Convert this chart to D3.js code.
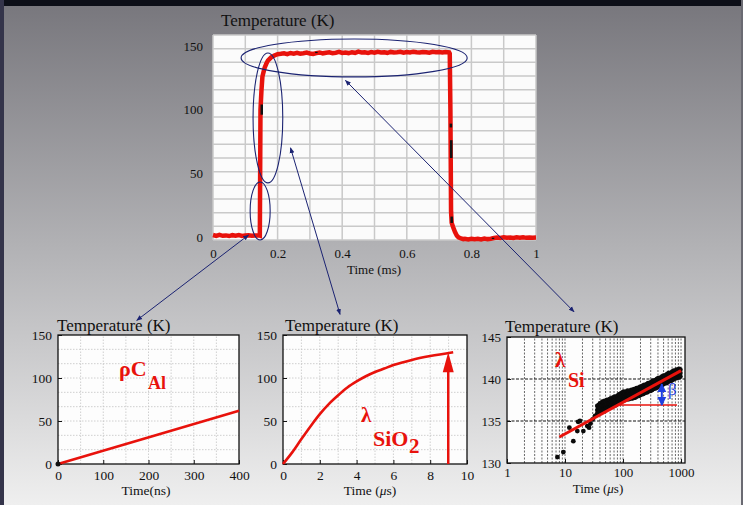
<!DOCTYPE html>
<html><head><meta charset="utf-8">
<script src="https://cdn.jsdelivr.net/npm/d3@7"></script>
<style>html,body{margin:0;padding:0;overflow:hidden;background:#888}svg{display:block}</style>
</head><body><svg id="c" width="743" height="505"></svg>
<script>
// ---------------- DATA ----------------
// Main chart: time (ms), temperature (K)
const mainSeries = [
 [0,1.5],[0.01,0.8],[0.02,1.6],[0.03,0.9],[0.04,1.2],[0.05,0.7],[0.06,1.4],[0.07,1.0],[0.08,1.5],[0.09,0.8],
 [0.10,1.1],[0.11,1.3],[0.12,0.9],[0.13,1.2],[0.14,1.4],[0.145,1.0],[0.146,50],[0.147,100],[0.15,115],
 [0.153,126],[0.157,130],[0.16,133],[0.165,136],[0.17,138.5],[0.18,141],[0.19,142.5],[0.20,143.5],
 [0.21,143.8],[0.22,144.2],[0.23,143.6],[0.24,144.5],[0.25,144.0],[0.26,144.6],[0.27,143.9],[0.28,144.3],
 [0.29,144.8],[0.30,144.1],[0.31,143.7],[0.32,144.4],[0.33,144.9],[0.34,144.2],[0.35,144.6],[0.36,145.0],
 [0.37,144.3],[0.38,144.7],[0.39,145.3],[0.40,144.5],[0.41,144.9],[0.42,144.4],[0.43,145.1],[0.44,144.6],
 [0.45,145.5],[0.46,144.8],[0.47,145.0],[0.48,144.5],[0.49,145.2],[0.50,144.7],[0.51,145.4],[0.52,144.9],
 [0.53,145.1],[0.54,144.6],[0.55,145.3],[0.56,144.8],[0.57,145.0],[0.58,145.4],[0.59,144.7],[0.60,145.2],
 [0.61,144.9],[0.62,145.5],[0.63,145.0],[0.64,144.8],[0.65,145.3],[0.66,145.1],[0.67,144.7],[0.68,145.4],
 [0.69,145.0],[0.70,145.2],[0.71,144.9],[0.72,145.3],[0.731,145.0],[0.733,144],[0.735,100],[0.736,60],
 [0.737,20],[0.739,11],[0.743,8],[0.749,4],[0.755,1],[0.76,-0.3],[0.768,-1.2],[0.775,-1.8],
 [0.78,-1.5],[0.79,-1.9],[0.80,-1.4],[0.81,-1.8],[0.82,-1.5],[0.83,-1.9],[0.84,-1.3],[0.85,-1.7],
 [0.86,-1.4],[0.87,-0.9],[0.88,-0.5],[0.89,-0.8],[0.90,-0.3],[0.91,-0.7],[0.92,-0.4],[0.93,-0.8],
 [0.94,-0.3],[0.95,-0.6],[0.96,-0.2],[0.97,-0.7],[0.98,-0.4],[0.99,-0.6],[1.0,-0.5]
];
// black raw-data segments on the main curve: [time, T from, T to]
const mainBlackMarks = [[0.151,96,104],[0.7375,62,76],[0.7365,86,89],[0.739,11,16],[0.32,144.4,145.4],[0.867,-1.6,-0.6]];
const mainXTicks = [0,0.2,0.4,0.6,0.8,1];
const mainYTicks = [0,50,100,150];

// Left inset: Al (ns)
const alTime = [0,400];
const alTemp = [0,62];
const alXTicks = [0,100,200,300,400];
const subYTicks = [0,50,100,150];

// Middle inset: SiO2 (µs)
const sioTime = [0,0.5,1.0,1.5,2.0,2.5,3.0,3.5,4.0,4.5,5.0,5.5,6.0,7.0,8.0,9.25];
const sioTemp = [0,13.5,29,44,58,70,80,89,96,102,107,111,115,121,125.5,130];
const sioXTicks = [0,2,4,6,8,10];
const sioArrow = {t:8.98, from:0, to:130};

// Right inset: Si (µs, log)
const siSparse = [[7.4,130.7],[9.35,131.3],[11.9,134.2],[13.9,132.6],[16.3,133.8],[16.8,134.9],[18.1,135.0],
 [20.7,133.8],[24.2,134.4],[26,134.2],[27.5,134.7],[30,135.2],[33,135.6],[39,136.9]];
const siBand = [
[36,136.8,136.3,135.9],[38,136.9,136.5,136.0],[40,137.1,136.6,136.2],[42,136.9,136.5,136.1],[44,137.3,136.8,136.3],
[46,137.2,136.7,136.3],[48,137.4,136.9,136.4],[50,137.2,136.8,136.4],[53,137.5,137.0,136.5],[56,137.4,137.0,136.6],
[59,137.6,137.1,136.6],[62,137.7,137.2,136.8],[65,137.5,137.1,136.7],[68,137.8,137.3,136.8],[72,137.9,137.4,136.9],
[76,137.8,137.3,136.9],[80,138.0,137.5,137.1],[84,138.1,137.6,137.2],[88,138.2,137.7,137.2],[93,138.3,137.8,137.3],
[98,138.4,137.9,137.4],[103,138.5,138.0,137.5],[108,138.3,137.9,137.5],[114,138.5,138.0,137.6],[120,138.6,138.1,137.6],
[126,138.4,138.0,137.6],[133,138.6,138.1,137.7],[140,138.7,138.2,137.7],[147,138.5,138.1,137.7],[155,138.8,138.3,137.8],
[163,138.6,138.2,137.8],[171,138.9,138.4,137.9],[180,138.8,138.4,138.0],[190,139.0,138.5,138.0],[200,139.1,138.6,138.1],
[210,139.0,138.6,138.2],[221,139.2,138.7,138.2],[233,139.3,138.8,138.3],[245,139.2,138.8,138.4],[258,139.4,138.9,138.4],
[271,139.5,139.0,138.5],[285,139.4,139.0,138.6],[300,139.6,139.1,138.6],[316,139.7,139.2,138.7],[332,139.8,139.3,138.8],
[350,139.7,139.3,138.9],[368,139.9,139.4,138.9],[387,140.0,139.5,139.0],[407,140.1,139.6,139.1],[429,140.0,139.6,139.2],
[451,140.2,139.7,139.2],[475,140.3,139.8,139.3],[500,140.4,139.9,139.4],[526,140.3,139.9,139.5],[554,140.5,140.0,139.5],
[583,140.6,140.1,139.6],[614,140.7,140.2,139.7],[646,140.6,140.2,139.8],[680,140.8,140.3,139.8],[716,140.9,140.4,139.9],
[754,141.0,140.5,140.0],[793,140.9,140.5,140.1],[835,141.1,140.6,140.1],[879,141.0,140.6,140.2],[925,141.2,140.7,140.2],
[974,141.1,140.7,140.3]];
const siFitTime = [8,1000];
const siFitTemp = [133.1,141.0];
const siRefLine = {from:82, to:850, T:136.9};
const siBeta = {t:466, from:136.9, to:139.4};
const siXTicks = [1,10,100,1000];
const siYTicks = [130,135,140,145];

// ---------------- DRAW ----------------
const svg = d3.select('#c');
const defs = svg.append('defs');
const RED = '#e8120c', NAVY = '#1b2372', BLUE = '#1f3fe0';
const SERIF = '"Liberation Serif","Times New Roman",serif';

const bg = defs.append('linearGradient').attr('id','bg').attr('x1',0).attr('y1',0).attr('x2',0).attr('y2',1);
bg.append('stop').attr('offset',0).attr('stop-color','#77767c');
bg.append('stop').attr('offset',0.5).attr('stop-color','#b3b3b6');
bg.append('stop').attr('offset',1).attr('stop-color','#efefef');
svg.append('rect').attr('width',743).attr('height',505).attr('fill','url(#bg)');
svg.append('rect').attr('width',743).attr('height',6).attr('fill','#0d0f18');
svg.append('rect').attr('width',4).attr('height',505).attr('fill','#34344a');
svg.append('rect').attr('x',741).attr('width',2).attr('height',505).attr('fill','#6a6a72');

// arrow markers
const mk = defs.append('marker').attr('id','ah').attr('viewBox','0 0 10 10').attr('refX',9).attr('refY',5)
  .attr('markerWidth',6).attr('markerHeight',6).attr('orient','auto-start-reverse').attr('markerUnits','userSpaceOnUse');
mk.append('path').attr('d','M0,1 L10,5 L0,9 z').attr('fill',NAVY);
const mkb = defs.append('marker').attr('id','bh').attr('viewBox','0 0 10 10').attr('refX',9).attr('refY',5)
  .attr('markerWidth',9).attr('markerHeight',10).attr('orient','auto-start-reverse').attr('markerUnits','userSpaceOnUse');
mkb.append('path').attr('d','M0,0 L10,5 L0,10 z').attr('fill',BLUE);

// ----- main chart
const mx = d3.scaleLinear().domain([0,1]).range([213,536]);
const my = d3.scaleLinear().domain([-2.4,158.6]).range([240,35]);
const gm = svg.append('g');
gm.append('rect').attr('x',mx(0)).attr('y',my(158.6)).attr('width',mx(1)-mx(0)).attr('height',my(-2.4)-my(158.6)).attr('fill','#fbfbfb');
gm.selectAll('.vg').data(d3.range(0,1.0001,0.1)).join('line')
  .attr('x1',d=>mx(d)).attr('x2',d=>mx(d)).attr('y1',my.range()[0]).attr('y2',my.range()[1])
  .attr('stroke','#c9c9c9').attr('stroke-width',1.5);
const yd = my.domain();
gm.selectAll('.hg').data(d3.range(16).map(i=>yd[0]+i*(yd[1]-yd[0])/15)).join('line')
  .attr('x1',mx(0)).attr('x2',mx(1)).attr('y1',d=>my(d)).attr('y2',d=>my(d))
  .attr('stroke','#c9c9c9').attr('stroke-width',1.5);
gm.append('path').datum(mainSeries).attr('fill','none').attr('stroke',RED).attr('stroke-width',4.5)
  .attr('stroke-linejoin','miter').attr('d',d3.line().x(d=>mx(d[0])).y(d=>my(d[1])));
gm.selectAll('.bm').data(mainBlackMarks).join('line')
  .attr('x1',d=>mx(d[0])).attr('x2',d=>mx(d[0])).attr('y1',d=>my(d[1])).attr('y2',d=>my(d[2]))
  .attr('stroke','#111').attr('stroke-width',2.5);
const axm = gm.append('g').attr('transform',`translate(0,${my.range()[0]})`)
  .call(d3.axisBottom(mx).tickValues(mainXTicks).tickSize(0).tickPadding(9).tickFormat(d=>String(d)));
const aym = gm.append('g').attr('transform',`translate(${mx(0)},0)`)
  .call(d3.axisLeft(my).tickValues(mainYTicks).tickSize(0).tickPadding(10).tickFormat(d=>String(d)));
[axm,aym].forEach(a=>{a.select('.domain').remove(); a.selectAll('text').attr('font-family',SERIF).attr('font-size',13).attr('fill','#111');});
gm.append('text').attr('x',221).attr('y',26).attr('font-family',SERIF).attr('font-size',17).attr('fill','#111').text('Temperature (K)');
gm.append('text').attr('x',374).attr('y',274).attr('text-anchor','middle').attr('font-family',SERIF).attr('font-size',13).attr('fill','#111').text('Time (ms)');

// ----- insets
function inset(o){
  const g = svg.append('g');
  const [x0,x1] = o.x.range(), [y0,y1] = o.y.range();
  g.append('rect').attr('x',x0).attr('y',y1).attr('width',x1-x0).attr('height',y0-y1).attr('fill','#fdfdfd');
  g.selectAll('.gv').data(o.gridX).join('line')
    .attr('x1',d=>o.x(d)).attr('x2',d=>o.x(d)).attr('y1',y0).attr('y2',y1)
    .attr('stroke',o.gridColor).attr('stroke-width',o.gridW).attr('stroke-dasharray',o.gridDash);
  g.selectAll('.gh').data(o.gridY).join('line')
    .attr('x1',x0).attr('x2',x1).attr('y1',d=>o.y(d)).attr('y2',d=>o.y(d))
    .attr('stroke',o.gridColorY||o.gridColor).attr('stroke-width',o.gridWY||o.gridW).attr('stroke-dasharray',o.gridDashY||o.gridDash);
  const ax = g.append('g').attr('transform',`translate(0,${y0})`)
    .call(d3.axisBottom(o.x).tickValues(o.xTicks).tickSizeInner(-4).tickSizeOuter(0).tickPadding(o.xPad||6).tickFormat(d=>String(d)));
  const ay = g.append('g').attr('transform',`translate(${x0},0)`)
    .call(d3.axisLeft(o.y).tickValues(o.yTicks).tickSizeInner(-4).tickSizeOuter(0).tickPadding(6).tickFormat(d=>String(d)));
  [ax,ay].forEach(a=>{a.select('.domain').remove(); a.selectAll('line').attr('stroke','#111');
    a.selectAll('text').attr('font-family',SERIF).attr('font-size',o.tickFont||13.5).attr('fill','#111');});
  g.append('rect').attr('x',x0).attr('y',y1).attr('width',x1-x0).attr('height',y0-y1).attr('fill','none').attr('stroke','#111').attr('stroke-width',1.3);
  g.append('text').attr('x',o.titleX).attr('y',o.titleY).attr('font-family',SERIF).attr('font-size',17).attr('fill','#111').text('Temperature (K)');
  const xl = g.append('text').attr('x',o.labelX).attr('y',o.labelY).attr('text-anchor','middle').attr('font-family',SERIF).attr('font-size',o.labelFont||13.5).attr('fill','#111');
  o.label.forEach(p=>xl.append('tspan').attr('font-style',p[1]?'italic':'normal').text(p[0]));
  return g;
}

// left
const ax1 = d3.scaleLinear().domain([0,400]).range([58,239]);
const ay1 = d3.scaleLinear().domain([0,150]).range([464,335]);
const g1 = inset({x:ax1,y:ay1,gridX:d3.range(50,400,50),gridY:d3.range(1,9).map(i=>i*50/3),
  gridColor:'#c4c4c4',gridW:0.8,gridDash:'1.5,1.5',xTicks:alXTicks,yTicks:subYTicks,
  titleX:57,titleY:331,labelX:146,labelY:495,label:[['Time(ns)',false]]});
g1.append('path').datum(alTime.map((t,i)=>[t,alTemp[i]])).attr('fill','none').attr('stroke',RED).attr('stroke-width',2.6)
  .attr('d',d3.line().x(d=>ax1(d[0])).y(d=>ay1(d[1])));
g1.append('circle').attr('cx',ax1(alTime[0])).attr('cy',ay1(alTemp[0])).attr('r',2.5).attr('fill','#111');
g1.append('text').attr('x',119).attr('y',376).attr('font-family',SERIF).attr('font-weight','bold').attr('font-size',22).attr('fill',RED).text('ρC');
g1.append('text').attr('x',148).attr('y',389).attr('font-family',SERIF).attr('font-weight','bold').attr('font-size',18).attr('fill',RED).text('Al');

// middle
const ax2 = d3.scaleLinear().domain([0,10]).range([283,467]);
const ay2 = d3.scaleLinear().domain([0,150]).range([464,335]);
const g2 = inset({x:ax2,y:ay2,gridX:d3.range(1,10,1),gridY:d3.range(1,9).map(i=>i*50/3),
  gridColor:'#c4c4c4',gridW:0.8,gridDash:'1.5,1.5',xTicks:sioXTicks,yTicks:subYTicks,
  titleX:285,titleY:331,labelX:370,labelY:495,label:[['Time (',false],['μ',true],['s)',false]]});
g2.append('path').datum(sioTime.map((t,i)=>[t,sioTemp[i]])).attr('fill','none').attr('stroke',RED).attr('stroke-width',2.6)
  .attr('d',d3.line().curve(d3.curveMonotoneX).x(d=>ax2(d[0])).y(d=>ay2(d[1])));
g2.append('line').attr('x1',ax2(sioArrow.t)).attr('x2',ax2(sioArrow.t)).attr('y1',ay2(sioArrow.from)).attr('y2',ay2(sioArrow.to)+18)
  .attr('stroke',RED).attr('stroke-width',2.5);
g2.append('path').attr('d',`M${ax2(sioArrow.t)},${ay2(sioArrow.to)} l-5.5,20 l11,0 z`).attr('fill',RED);
g2.append('text').attr('x',361).attr('y',422).attr('font-family',SERIF).attr('font-weight','bold').attr('font-size',21).attr('fill',RED).text('λ');
g2.append('text').attr('x',373).attr('y',446).attr('font-family',SERIF).attr('font-weight','bold').attr('font-size',22).attr('fill',RED).text('SiO');
g2.append('text').attr('x',409).attr('y',453).attr('font-family',SERIF).attr('font-weight','bold').attr('font-size',21).attr('fill',RED).text('2');

// right
const ax3 = d3.scaleLog().domain([1,1170]).range([507,685]);
const ay3 = d3.scaleLinear().domain([130,145]).range([463,337]);
const logGrid = [];
[1,10,100,1000].forEach(dec=>{for(let k=1;k<10;k++){const v=dec*k; if(v>1 && v<1170) logGrid.push(v);}});
const g3 = inset({x:ax3,y:ay3,gridX:logGrid,gridY:[135,140],
  gridColor:'#2a2a2a',gridW:0.7,gridDash:'2,1.5',gridColorY:'#111',gridWY:1,gridDashY:'3,1.5',
  xTicks:siXTicks,yTicks:siYTicks,xPad:5,tickFont:13,labelFont:13,
  titleX:505,titleY:332,labelX:598,labelY:493,label:[['Time (',false],['μ',true],['s)',false]]});
const siPts = siSparse.concat(siBand.flatMap(r=>[[r[0],r[1]],[r[0],r[2]],[r[0],r[3]]]));
g3.selectAll('.sp').data(siPts).join('circle').attr('cx',d=>ax3(d[0])).attr('cy',d=>ay3(d[1])).attr('r',2.4).attr('fill','#0a0a0a');
g3.append('path').datum(siFitTime.map((t,i)=>[t,siFitTemp[i]])).attr('fill','none').attr('stroke',RED).attr('stroke-width',3)
  .attr('d',d3.line().x(d=>ax3(d[0])).y(d=>ay3(d[1])));
g3.append('line').attr('x1',ax3(siRefLine.from)).attr('x2',ax3(siRefLine.to)).attr('y1',ay3(siRefLine.T)).attr('y2',ay3(siRefLine.T))
  .attr('stroke',RED).attr('stroke-width',1.6);
g3.append('line').attr('x1',ax3(siBeta.t)).attr('x2',ax3(siBeta.t)).attr('y1',ay3(siBeta.from)).attr('y2',ay3(siBeta.to))
  .attr('stroke',BLUE).attr('stroke-width',2).attr('marker-start','url(#bh)').attr('marker-end','url(#bh)');
g3.append('text').attr('x',668).attr('y',395).attr('font-family',SERIF).attr('font-size',17).attr('fill',BLUE).text('β');
g3.append('text').attr('x',555).attr('y',367).attr('font-family',SERIF).attr('font-weight','bold').attr('font-size',21).attr('fill',RED).text('λ');
g3.append('text').attr('x',568).attr('y',387).attr('font-family',SERIF).attr('font-weight','bold').attr('font-size',20).attr('fill',RED).text('Si');

// ----- annotations: ellipses (main chart data coords) and connecting arrows
const ellipses = [{t:0.437,T:140.6,rt:0.35,rT:14.9},{t:0.170,T:93.5,rt:0.046,rT:51},{t:0.146,T:20.4,rt:0.031,rT:22.8}];
const ga = svg.append('g');
ga.selectAll('ellipse').data(ellipses).join('ellipse')
  .attr('cx',d=>mx(d.t)).attr('cy',d=>my(d.T)).attr('rx',d=>mx(d.rt)-mx(0)).attr('ry',d=>my(0)-my(d.rT))
  .attr('fill','none').attr('stroke',NAVY).attr('stroke-width',1.1);
const links = [
  {a:[mx(0.11),my(1.5)], b:[ax1(174),ay1(167)]},
  {a:[mx(0.24),my(70)], b:[ax2(3.1),ay2(174)]},
  {a:[mx(0.41),my(123)], b:[ax3(14.3),ay3(148.0)]}
];
ga.selectAll('.lk').data(links).join('line')
  .attr('x1',d=>d.a[0]).attr('y1',d=>d.a[1]).attr('x2',d=>d.b[0]).attr('y2',d=>d.b[1])
  .attr('stroke',NAVY).attr('stroke-width',1).attr('marker-start','url(#ah)').attr('marker-end','url(#ah)');
</script></body></html>
